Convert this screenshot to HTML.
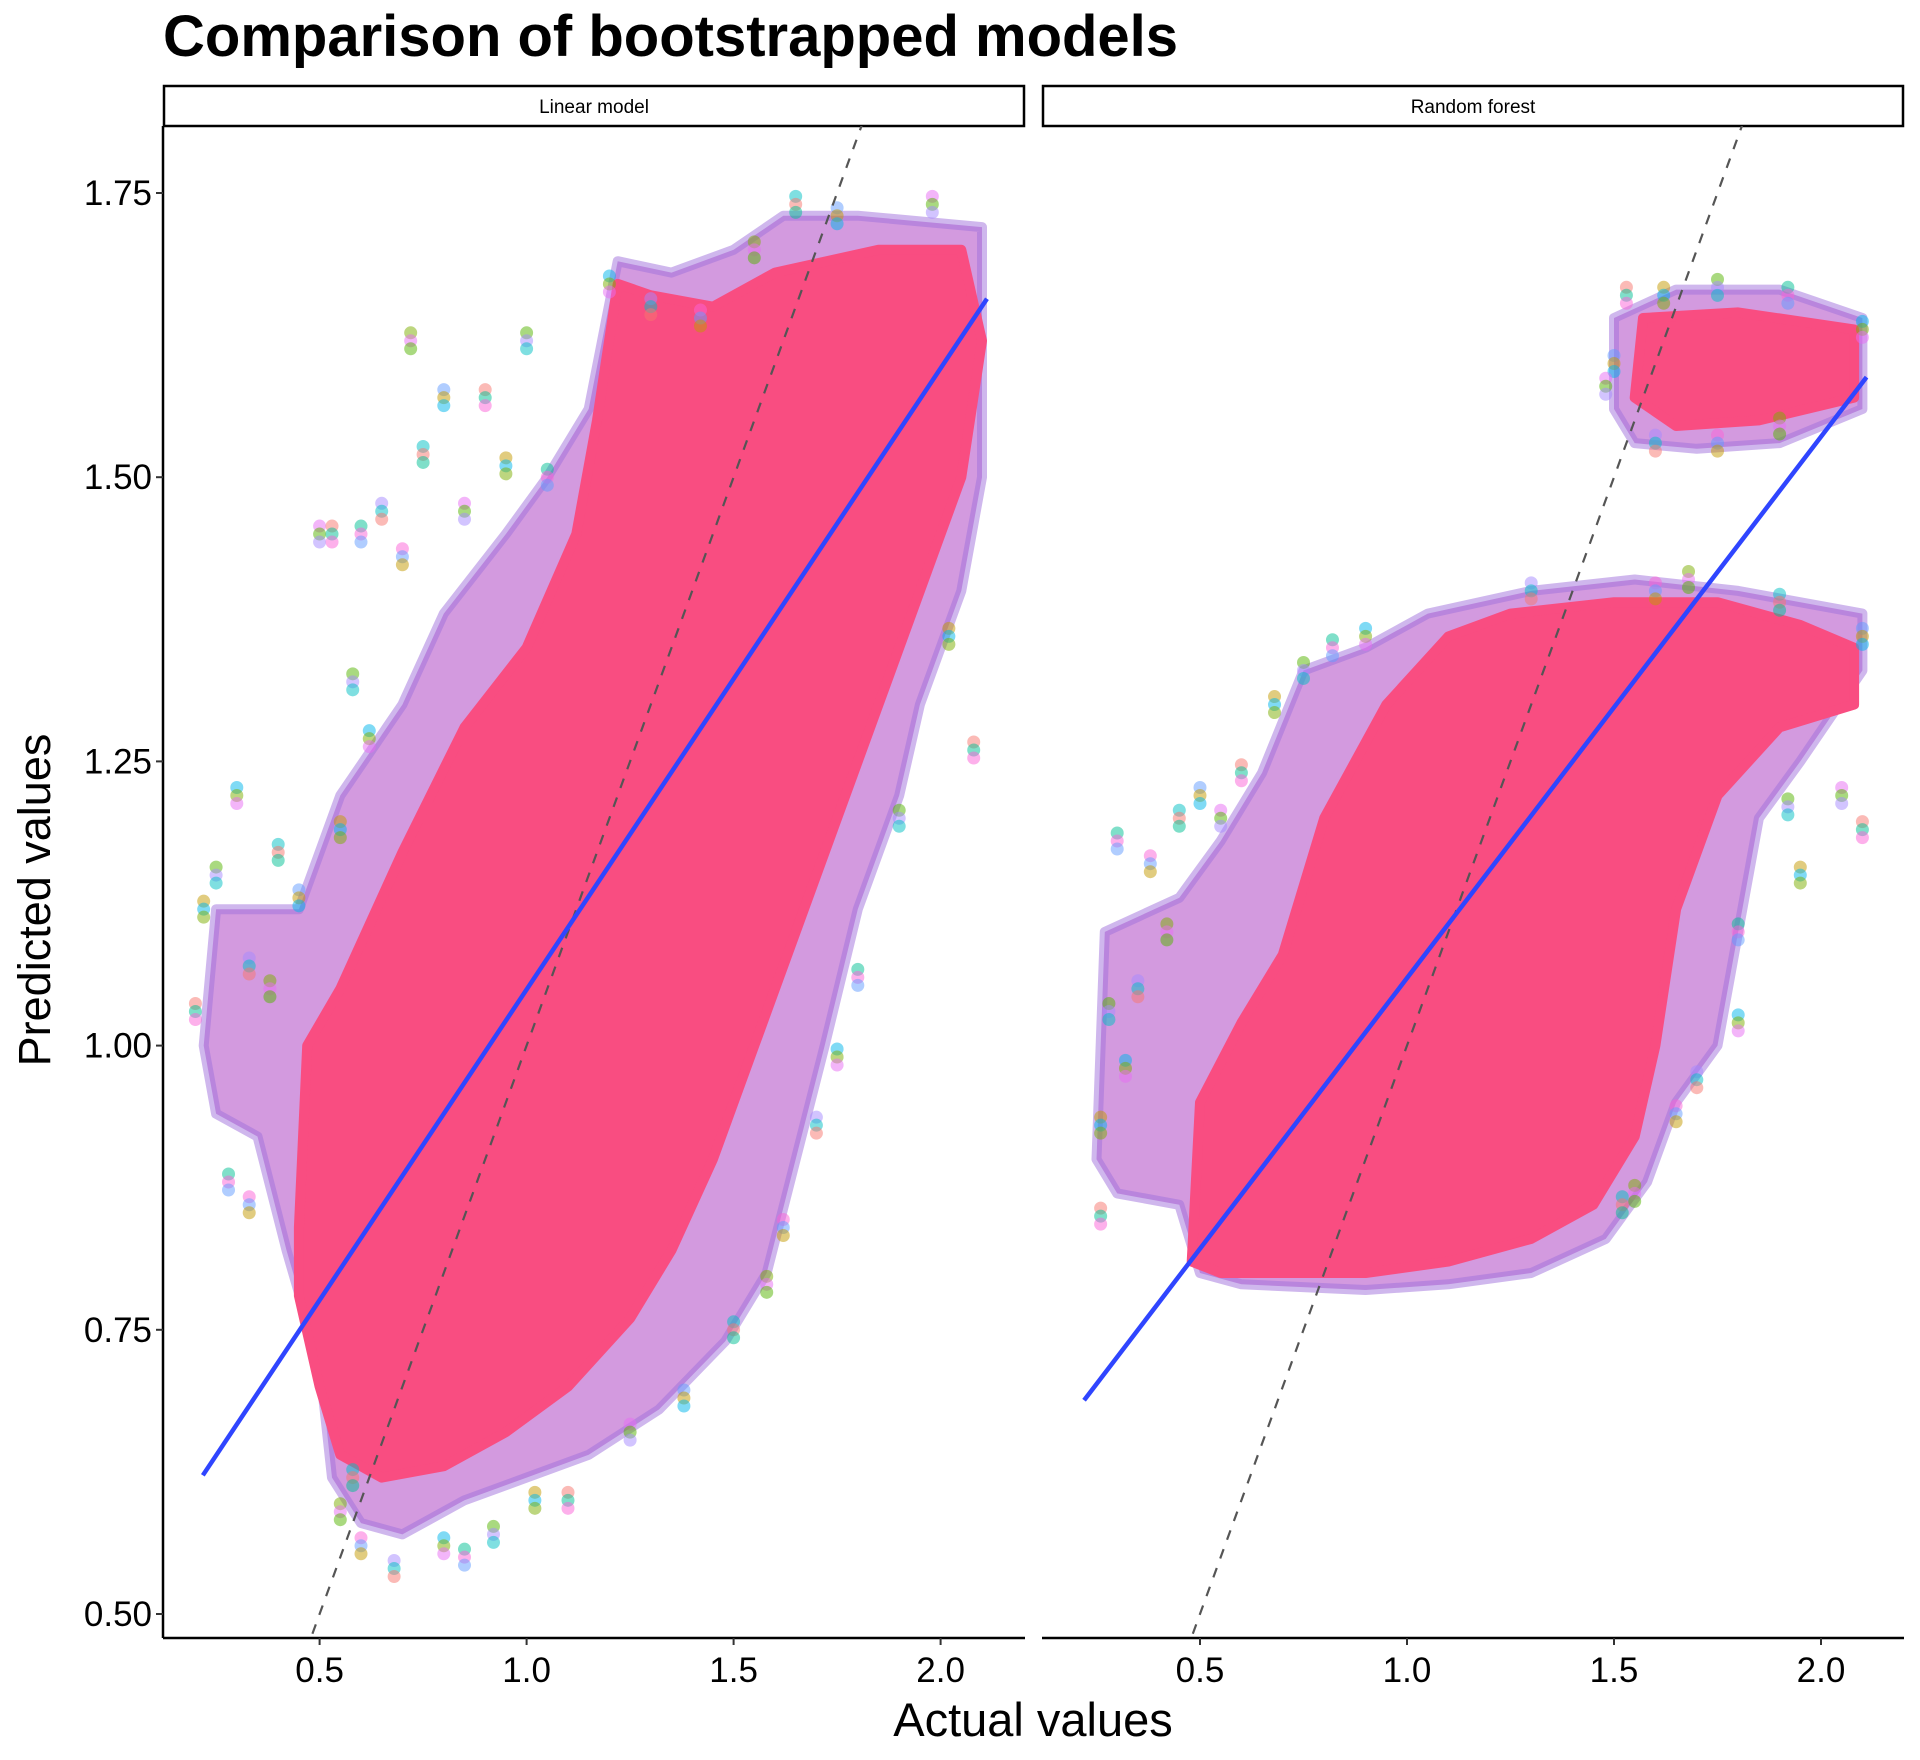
<!DOCTYPE html>
<html><head><meta charset="utf-8"><style>
html,body{margin:0;padding:0;background:#fff;}
svg{display:block;font-family:"Liberation Sans",Arial,sans-serif;}
</style></head><body>
<svg id="chart" width="1920" height="1760" viewBox="0 0 1920 1760">
<text x="163" y="56" font-size="58" font-weight="bold">Comparison of bootstrapped models</text>
<g id="panels"></g>
<text x="1033" y="1736" font-size="47" text-anchor="middle">Actual values</text>
<text transform="translate(50,900) rotate(-90)" font-size="45" text-anchor="middle">Predicted values</text>
</svg>
<script>
const panelNames = ["Linear model", "Random forest"];
const xTicks = [0.5, 1.0, 1.5, 2.0];
const xTickLabels = ["0.5", "1.0", "1.5", "2.0"];
const yTicks = [0.5, 0.75, 1.0, 1.25, 1.5, 1.75];
const yTickLabels = ["0.50", "0.75", "1.00", "1.25", "1.50", "1.75"];
const fitLinear = [[0.218, 0.622], [2.112, 1.657]];
const fitForest = [[0.22, 0.688], [2.11, 1.588]];
const envLinear = [[0.22,1.0],[0.25,1.12],[0.45,1.12],[0.55,1.22],[0.7,1.3],[0.8,1.38],[0.95,1.45],[1.05,1.5],[1.15,1.56],[1.22,1.69],[1.35,1.68],[1.5,1.7],[1.62,1.73],[1.8,1.73],[2.1,1.72],[2.1,1.5],[2.05,1.4],[1.95,1.3],[1.9,1.22],[1.8,1.12],[1.72,1.0],[1.65,0.9],[1.58,0.8],[1.48,0.74],[1.32,0.68],[1.15,0.64],[1.0,0.62],[0.85,0.6],[0.7,0.57],[0.6,0.58],[0.53,0.62],[0.5,0.72],[0.42,0.82],[0.35,0.92],[0.25,0.94]];
const coreLinear = [[0.45,0.84],[0.47,1.0],[0.55,1.05],[0.7,1.17],[0.85,1.28],[1.0,1.35],[1.12,1.45],[1.17,1.55],[1.22,1.67],[1.3,1.66],[1.45,1.65],[1.6,1.68],[1.85,1.7],[2.05,1.7],[2.1,1.62],[2.05,1.5],[1.95,1.4],[1.85,1.3],[1.75,1.2],[1.65,1.1],[1.55,1.0],[1.45,0.9],[1.35,0.82],[1.25,0.76],[1.1,0.7],[0.95,0.66],[0.8,0.63],[0.65,0.62],[0.55,0.64],[0.5,0.7],[0.45,0.78]];
const envForest = [[0.25,0.9],[0.27,1.1],[0.45,1.13],[0.55,1.18],[0.65,1.24],[0.75,1.33],[0.9,1.35],[1.05,1.38],[1.3,1.4],[1.55,1.41],[1.8,1.4],[2.1,1.38],[2.1,1.33],[1.95,1.25],[1.85,1.2],[1.8,1.1],[1.75,1.0],[1.65,0.95],[1.58,0.88],[1.48,0.83],[1.3,0.8],[1.1,0.79],[0.9,0.785],[0.6,0.79],[0.5,0.8],[0.45,0.86],[0.3,0.87]];
const coreForest = [[0.48,0.81],[0.5,0.95],[0.6,1.02],[0.7,1.08],[0.8,1.2],[0.95,1.3],[1.1,1.36],[1.25,1.38],[1.5,1.39],[1.75,1.39],[1.95,1.37],[2.08,1.35],[2.08,1.3],[1.9,1.28],[1.75,1.22],[1.65,1.12],[1.6,1.0],[1.55,0.92],[1.45,0.86],[1.3,0.83],[1.1,0.81],[0.9,0.80],[0.7,0.80],[0.55,0.80]];
const topEnvForest = [[1.5,1.56],[1.5,1.64],[1.65,1.665],[1.9,1.665],[2.1,1.64],[2.1,1.56],[1.9,1.53],[1.7,1.525],[1.55,1.53]];
const topCoreForest = [[1.55,1.57],[1.57,1.64],[1.8,1.645],[2.08,1.63],[2.08,1.57],[1.85,1.55],[1.65,1.545]];
const outLinear = [[0.2,1.03],[0.22,1.12],[0.25,1.15],[0.28,0.88],[0.3,1.22],[0.33,1.07],[0.33,0.86],[0.38,1.05],[0.4,1.17],[0.45,1.13],[0.5,1.45],[0.53,1.45],[0.55,1.19],[0.58,1.32],[0.6,1.45],[0.62,1.27],[0.65,1.47],[0.7,1.43],[0.72,1.62],[0.75,1.52],[0.8,1.57],[0.85,1.47],[0.9,1.57],[0.95,1.51],[1.0,1.62],[1.05,1.5],[1.2,1.67],[1.3,1.65],[1.42,1.64],[1.55,1.7],[1.65,1.74],[1.75,1.73],[1.98,1.74],[2.08,1.26],[2.02,1.36],[1.9,1.2],[1.8,1.06],[1.75,0.99],[1.7,0.93],[1.62,0.84],[1.58,0.79],[1.5,0.75],[1.38,0.69],[1.25,0.66],[1.1,0.6],[1.02,0.6],[0.92,0.57],[0.85,0.55],[0.8,0.56],[0.68,0.54],[0.6,0.56],[0.55,0.59],[0.58,0.62]];
const outForest = [[0.26,0.85],[0.26,0.93],[0.28,1.03],[0.3,1.18],[0.32,0.98],[0.35,1.05],[0.38,1.16],[0.42,1.1],[0.45,1.2],[0.5,1.22],[0.55,1.2],[0.6,1.24],[0.68,1.3],[0.75,1.33],[0.82,1.35],[0.9,1.36],[1.3,1.4],[1.6,1.4],[1.68,1.41],[1.9,1.39],[2.1,1.36],[2.05,1.22],[2.1,1.19],[1.95,1.15],[1.92,1.21],[1.8,1.1],[1.8,1.02],[1.7,0.97],[1.65,0.94],[1.55,0.87],[1.52,0.86],[1.5,1.6],[1.48,1.58],[1.53,1.66],[1.62,1.66],[1.75,1.667],[1.92,1.66],[2.1,1.63],[1.6,1.53],[1.75,1.53],[1.9,1.545]];
const palette = ["#f8766d","#c49a00","#53b400","#00c094","#00b6eb","#a58aff","#fb61d7","#7cae00","#00bfc4","#619cff","#e76bf3"];

const NS = "http://www.w3.org/2000/svg";
const panels = [{x0:163,x1:1025},{x0:1042,x1:1904}];
const plotTop = 126, plotBottom = 1638;
const yScale = v => 193 + (1.75 - v) * (1614 - 193) / 1.25;
function xScaleFor(p) {
  const off = p === 0 ? 319.6 : 1200;
  return v => off + (v - 0.5) * 414;
}
function mk(tag, attrs, parent) {
  const e = document.createElementNS(NS, tag);
  for (const k in attrs) e.setAttribute(k, attrs[k]);
  parent.appendChild(e);
  return e;
}
const root = document.getElementById("panels");
const datasets = [
  {fit: fitLinear, env: [envLinear], core: [coreLinear], out: outLinear},
  {fit: fitForest, env: [envForest, topEnvForest], core: [coreForest, topCoreForest], out: outForest}
];
panels.forEach((P, i) => {
  const xs = xScaleFor(i);
  const g = mk("g", {}, root);
  
  
  const clipId = "clip" + i;
  const cp = mk("clipPath", {id: clipId}, g);
  mk("rect", {x: P.x0, y: plotTop, width: P.x1 - P.x0, height: plotBottom - plotTop}, cp);
  const strip = mk("rect", {x: P.x0 + 1, y: 86, width: P.x1 - P.x0 - 2, height: 40, fill: "#fff", stroke: "#000", "stroke-width": 2.5}, g);
  
  
  const st = mk("text", {x: (P.x0 + P.x1) / 2, y: 113, "font-size": 19, "text-anchor": "middle"}, g);
  st.textContent = panelNames[i];
  
  
  const d = datasets[i];
  const marks = mk("g", {"clip-path": "url(#" + clipId + ")"}, g);
  const pts = poly => poly.map(p => xs(p[0]).toFixed(1) + "," + yScale(p[1]).toFixed(1)).join(" ");
  d.env.forEach(poly => {
    const e = mk("polygon", {points: pts(poly), fill: "#b85ccc", "fill-opacity": 0.62, stroke: "#a070dc", "stroke-width": 10, "stroke-opacity": 0.5, "stroke-linejoin": "round"}, marks);
    
    
  });
  d.core.forEach(poly => {
    const e = mk("polygon", {points: pts(poly), fill: "#f94d81", stroke: "#f94d81", "stroke-width": 10, "stroke-linejoin": "round"}, marks);
    
    
  });
  d.out.forEach((p, k) => {
    const cx = xs(p[0]), cy = yScale(p[1]);
    [0, 1, 2].forEach(j => {
      const c = mk("circle", {cx: cx, cy: cy - 8 + j * 8, r: 6.5, fill: palette[(k + j * 3) % palette.length], "fill-opacity": 0.5}, marks);
      
      
    });
  });
  const idl = mk("line", {x1: xs(0.4), y1: yScale(0.4), x2: xs(1.9), y2: yScale(1.9), stroke: "#555", "stroke-width": 2.2, "stroke-dasharray": "10,10"}, marks);
  
  
  const fl = mk("line", {x1: xs(d.fit[0][0]), y1: yScale(d.fit[0][1]), x2: xs(d.fit[1][0]), y2: yScale(d.fit[1][1]), stroke: "#2f45ff", "stroke-width": 4.5}, marks);
  
  
  const xa = mk("line", {x1: P.x0, y1: plotBottom, x2: P.x1, y2: plotBottom, stroke: "#000", "stroke-width": 2.5}, g);
  
  
  xTicks.forEach((t, k) => {
    const tx = xs(t);
    mk("line", {x1: tx, y1: plotBottom, x2: tx, y2: plotBottom + 7, stroke: "#333", "stroke-width": 2}, g);
    const lab = mk("text", {x: tx, y: 1682, "font-size": 35, "text-anchor": "middle"}, g);
    lab.textContent = xTickLabels[k];
    
    
  });
  if (i === 0) {
    const ya = mk("line", {x1: P.x0, y1: plotTop, x2: P.x0, y2: plotBottom, stroke: "#000", "stroke-width": 2.5}, g);
    
    
    yTicks.forEach((t, k) => {
      const ty = yScale(t);
      mk("line", {x1: P.x0 - 7, y1: ty, x2: P.x0, y2: ty, stroke: "#333", "stroke-width": 2}, g);
      const lab = mk("text", {x: P.x0 - 11, y: ty + 12, "font-size": 35, "text-anchor": "end"}, g);
      lab.textContent = yTickLabels[k];
      
      
    });
  }
});
</script>
</body></html>
